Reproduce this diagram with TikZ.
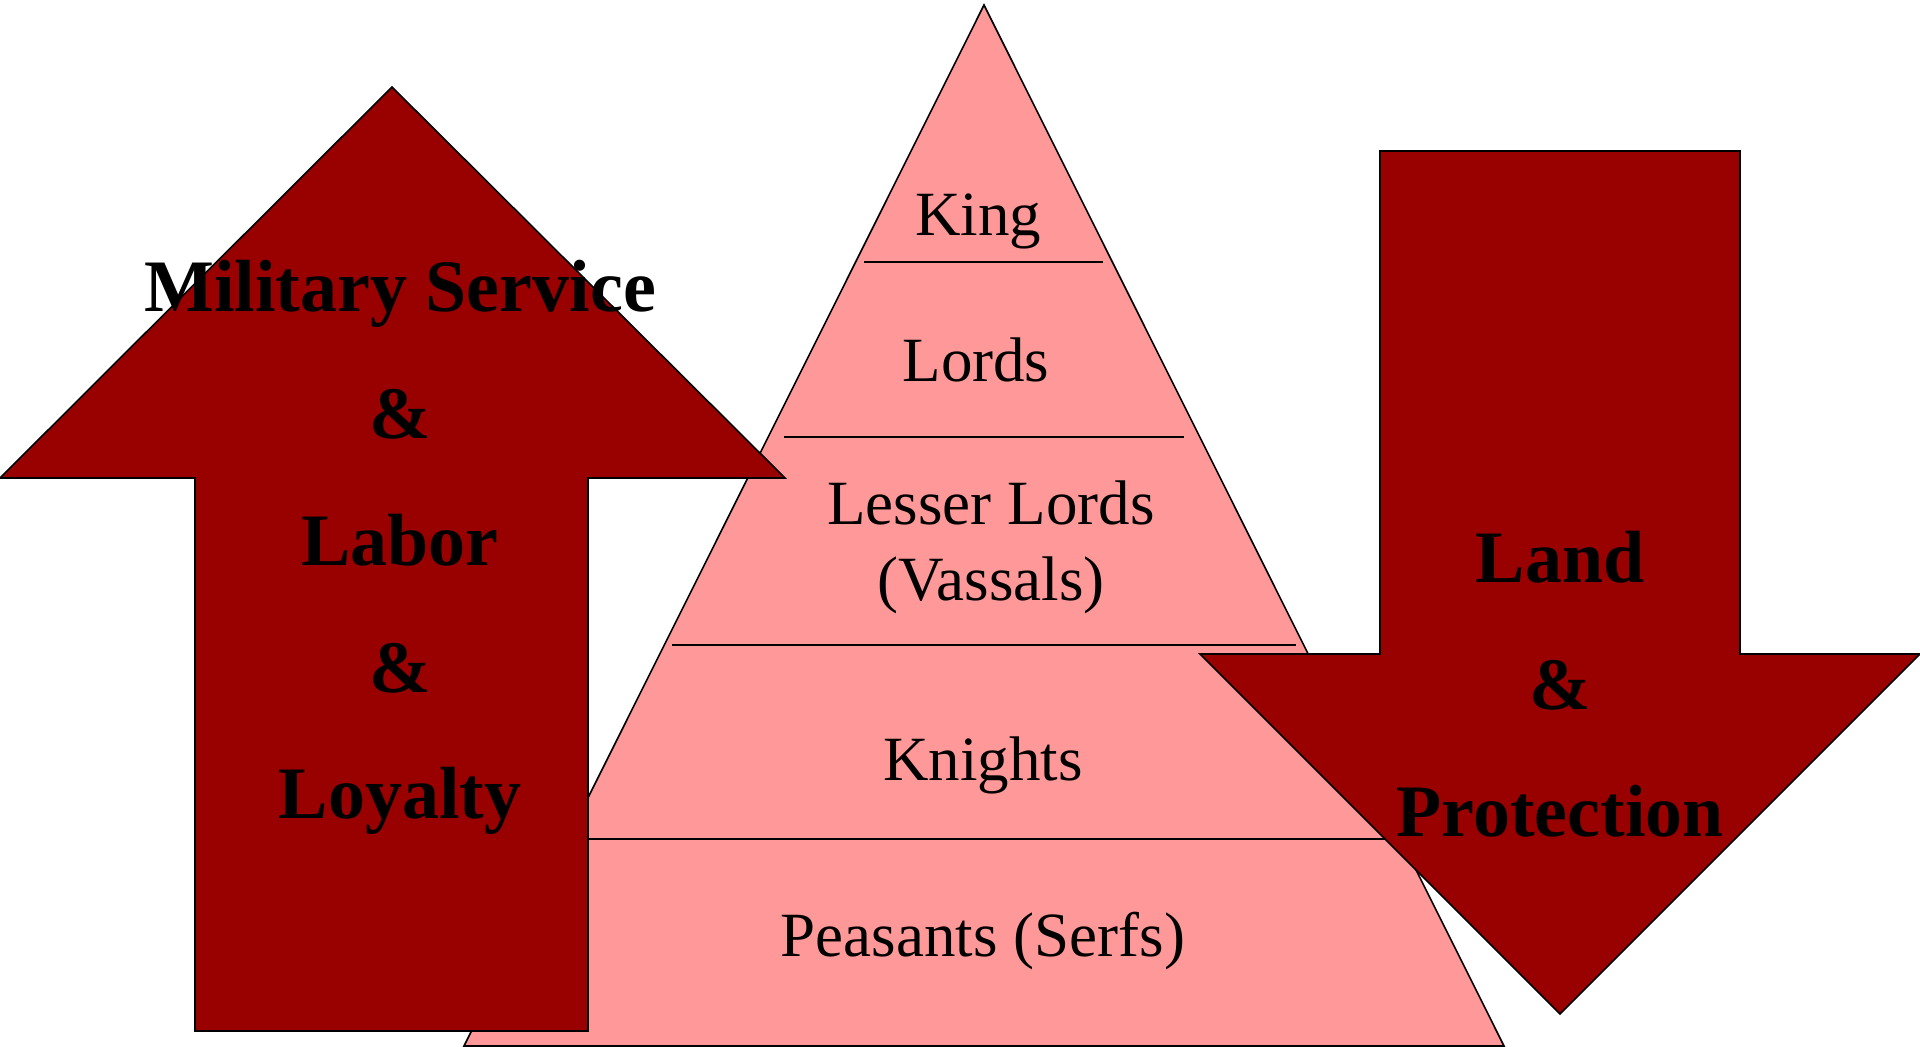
\documentclass[tikz,border=0pt]{standalone}
\usepackage{fontspec}
\setmainfont{Liberation Serif}
\definecolor{arrowred}{HTML}{990000}
\definecolor{pyrpink}{HTML}{FF9999}
\begin{document}
\begin{tikzpicture}[x=1pt,y=-1pt,
  outline/.style={draw=black,line width=1.6pt,line join=miter},
  divider/.style={draw=black,line width=1.6pt},
  tier/.style={anchor=base,inner sep=0pt,font=\fontsize{63}{63}\selectfont},
  flow/.style={anchor=base,inner sep=0pt,font=\fontsize{74}{74}\selectfont\bfseries}]
\useasboundingbox (0,0) rectangle (1920,1047);
\fill[white] (0,0) rectangle (1920,1047);
% pyramid
\draw[outline,fill=pyrpink] (984,5) -- (1504,1046) -- (464,1046) -- cycle;
\coordinate (k1) at (864,262);  \coordinate (k2) at (1103,262);
\coordinate (l1) at (784,437);  \coordinate (l2) at (1184,437);
\coordinate (v1) at (672,645);  \coordinate (v2) at (1296,645);
\coordinate (n1) at (580,839);  \coordinate (n2) at (1390,839);
\draw[divider] (k1) -- (k2);
\draw[divider] (l1) -- (l2);
\draw[divider] (v1) -- (v2);
\draw[divider] (n1) -- (n2);
\node[tier] (king) at (978,235) {King};
\node[tier] (lords) at (976,381) {Lords};
\node[tier] (lesser) at (991,524) {Lesser Lords};
\node[tier] (vassals) at (991,600) {(Vassals)};
\node[tier] (knights) at (983,780) {Knights};
\node[tier] (peasants) at (983,956) {Peasants (Serfs)};
% left up arrow
\draw[outline,fill=arrowred] (392,87) -- (785,478) -- (588,478) -- (588,1031)
  -- (195,1031) -- (195,478) -- (0,478) -- cycle;
% right down arrow
\draw[outline,fill=arrowred] (1380,151) -- (1740,151) -- (1740,654) -- (1920,654)
  -- (1560,1014) -- (1200,654) -- (1380,654) -- cycle;
% left arrow text
\node[flow] (mil) at (400,311) {Military Service};
\node[flow] (amp1) at (400,438) {\&};
\node[flow] (labor) at (400,565) {Labor};
\node[flow] (amp2) at (400,692) {\&};
\node[flow] (loyal) at (400,818) {Loyalty};
% right arrow text
\node[flow] (land) at (1560,582) {Land};
\node[flow] (amp3) at (1560,709) {\&};
\node[flow] (prot) at (1560,836) {Protection};
\end{tikzpicture}
\end{document}
